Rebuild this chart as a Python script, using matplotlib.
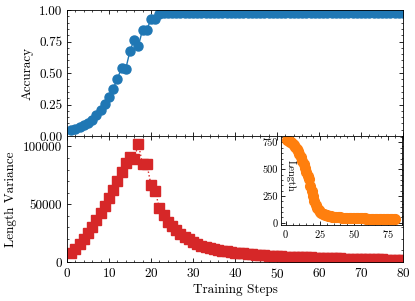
import numpy as np
import matplotlib
matplotlib.use("Agg")
import matplotlib.pyplot as plt
from matplotlib.ticker import AutoMinorLocator, MultipleLocator

plt.rcParams.update({
    "font.family": "serif",
    "font.serif": ["cmr10"],
    "mathtext.fontset": "cm",
    "axes.formatter.use_mathtext": True,
    "axes.unicode_minus": False,
    "xtick.direction": "in",
    "ytick.direction": "in",
    "xtick.top": True,
    "ytick.right": True,
    "xtick.major.size": 3,
    "ytick.major.size": 3,
    "xtick.minor.size": 1.5,
    "ytick.minor.size": 1.5,
    "xtick.major.width": 0.6,
    "ytick.major.width": 0.6,
    "xtick.minor.width": 0.5,
    "ytick.minor.width": 0.5,
    "axes.linewidth": 0.6,
    "xtick.minor.visible": True,
    "ytick.minor.visible": True,
})

steps = np.arange(1, 81)

accuracy = [0.045, 0.055, 0.07, 0.085, 0.105, 0.13, 0.17, 0.21, 0.255, 0.31,
            0.375, 0.455, 0.54, 0.535, 0.675, 0.765, 0.715, 0.845, 0.845, 0.925,
            0.93, 0.965, 0.975, 0.978, 0.979, 0.98, 0.98, 0.98, 0.98, 0.98,
            0.98, 0.98, 0.98, 0.98, 0.98, 0.98, 0.98, 0.98, 0.98, 0.98,
            0.98, 0.98, 0.98, 0.98, 0.98, 0.98, 0.98, 0.98, 0.98, 0.98,
            0.98, 0.98, 0.98, 0.98, 0.98, 0.98, 0.98, 0.98, 0.98, 0.98,
            0.98, 0.98, 0.98, 0.98, 0.98, 0.98, 0.98, 0.98, 0.98, 0.98,
            0.98, 0.98, 0.98, 0.98, 0.98, 0.98, 0.98, 0.98, 0.98, 0.98]

length_variance = [8000, 11500, 15500, 20000, 25000, 30500, 36000, 42000, 48500, 55500,
                   62500, 70000, 77500, 86000, 91000, 89500, 102000, 84500, 85000, 66500,
                   61500, 46500, 40500, 35000, 31000, 27500, 24500, 22000, 19500, 17500,
                   15500, 14000, 13000, 12000, 11200, 10500, 9800, 9200, 8700, 8200,
                   7800, 7400, 7000, 6700, 6400, 6100, 5800, 5500, 5300, 5100,
                   4900, 4700, 4600, 4400, 4300, 4100, 4000, 3900, 3700, 3600,
                   3500, 3400, 3300, 3200, 3100, 3000, 2900, 2800, 2700, 2600,
                   2500, 2400, 2350, 2300, 2200, 2100, 2050, 2000, 1950, 1900]

length = [770, 765, 758, 750, 740, 726, 710, 690, 668, 642,
          612, 578, 545, 510, 470, 440, 405, 345, 300, 250,
          205, 168, 140, 120, 105, 94, 86, 79, 74, 69,
          66, 63, 60, 58, 56, 54, 53, 52, 51, 50,
          49, 48, 48, 47, 46, 46, 45, 45, 44, 44,
          43, 43, 42, 42, 42, 41, 41, 41, 40, 40,
          40, 39, 39, 39, 38, 38, 38, 38, 37, 37,
          37, 37, 36, 36, 36, 36, 35, 35, 35, 35]

blue = "#1f77b4"
red = "#d62728"
orange = "#ff7f0e"

fig = plt.figure(figsize=(4.15, 3.01), dpi=100)
W, H = 415, 301
ax1 = fig.add_axes([67 / W, 1 - 136 / H, 336 / W, 126 / H])
ax2 = fig.add_axes([67 / W, 1 - 262 / H, 336 / W, 126 / H], sharex=ax1)

fs = 9.5
ax1.plot(steps, accuracy, "-o", color=blue, ms=6.5, lw=1.0)
ax1.set_ylim(0, 1.0)
ax1.set_xlim(0, 80)
ax1.yaxis.set_major_locator(MultipleLocator(0.25))
ax1.yaxis.set_minor_locator(AutoMinorLocator(5))
ax1.set_ylabel("Accuracy", fontsize=fs)
ax1.tick_params(labelbottom=False, labelsize=fs)
ax1.yaxis.set_major_formatter(matplotlib.ticker.FormatStrFormatter("%.2f"))

ax2.plot(steps, length_variance, ":s", color=red, ms=6.5, lw=1.0)
ax2.set_ylim(0, 109000)
ax2.yaxis.set_major_locator(MultipleLocator(50000))
ax2.yaxis.set_minor_locator(AutoMinorLocator(5))
ax2.xaxis.set_major_locator(MultipleLocator(10))
ax2.xaxis.set_minor_locator(AutoMinorLocator(5))
ax2.set_ylabel("Length Variance", fontsize=fs)
ax2.set_xlabel("Training Steps", fontsize=fs, labelpad=2)
ax2.tick_params(labelsize=fs)
ax2.yaxis.set_major_formatter(matplotlib.ticker.FormatStrFormatter("%d"))

axin = fig.add_axes([281 / W, 1 - 225 / H, 121 / W, 89 / H])
axin.plot(steps, length, "o", color=orange, ms=7)
axin.set_xlim(-3.5, 85)
axin.set_ylim(-20, 810)
axin.xaxis.set_major_locator(MultipleLocator(25))
axin.xaxis.set_minor_locator(AutoMinorLocator(5))
axin.yaxis.set_major_locator(MultipleLocator(250))
axin.yaxis.set_minor_locator(AutoMinorLocator(5))
axin.tick_params(labelsize=7.5, pad=2)
axin.yaxis.set_major_formatter(matplotlib.ticker.FormatStrFormatter("%d"))
axin.text(0.08, 0.55, "Length", rotation=270, transform=axin.transAxes,
          ha="center", va="center", fontsize=7.5)

fig.savefig("out.png", dpi=100)
